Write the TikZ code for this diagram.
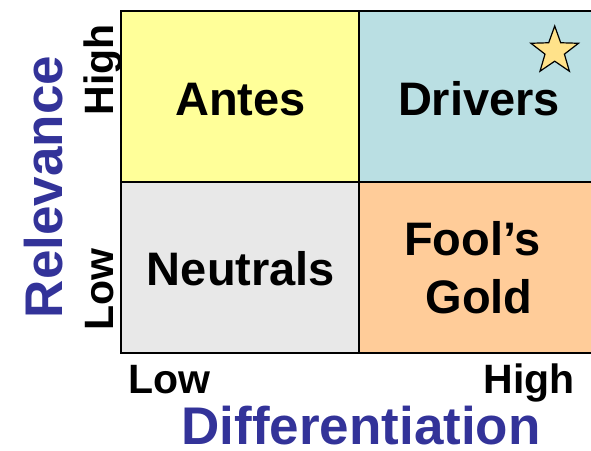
\documentclass[tikz,border=0pt]{standalone}
\usepackage{fontspec}
\setmainfont{Liberation Sans}
\definecolor{cyel}{HTML}{FFFF99}
\definecolor{cblue}{HTML}{BADFE3}
\definecolor{cgray}{HTML}{E8E8E8}
\definecolor{corange}{HTML}{FFCC99}
\definecolor{cstar}{HTML}{FFE28A}
\definecolor{caxis}{HTML}{333399}
\begin{document}
\begin{tikzpicture}[x=1pt,y=-1pt,
  cell/.style={draw=black, line width=1.4pt, inner sep=0pt, minimum width=238pt, minimum height=171pt},
  qlabel/.style={anchor=base, inner sep=0pt, font=\fontsize{47}{56}\selectfont\bfseries},
  ticklabel/.style={anchor=base, inner sep=0pt, font=\fontsize{41}{48}\selectfont\bfseries},
  axislabel/.style={anchor=base, inner sep=0pt, text=caxis, font=\fontsize{53}{62}\selectfont\bfseries},
  starmark/.style={draw=black, line width=1.2pt, fill=cstar, line join=miter}]
\useasboundingbox (0,0) rectangle (591,450);
\node[cell, fill=cyel] (antes) at (240,96.5) {};
\node[cell, fill=cblue] (drivers) at (478.5,96.5) {};
\node[cell, fill=cgray] (neutrals) at (240,267.5) {};
\node[cell, fill=corange] (fools) at (478.5,267.5) {};
\coordinate (star) at (554.7,51);
\draw[starmark, shift={(star)}]
  (-90:25) -- (-54:10.2) -- (-18:25) -- (18:10.2) -- (54:25) -- (90:10.2)
  -- (126:25) -- (162:10.2) -- (198:25) -- (234:10.2) -- cycle;
\node[qlabel] (tantes) at (240.5,115) {Antes};
\node[qlabel] (tdrivers) at (479,115) {Drivers};
\node[qlabel] (tneutrals) at (241,285) {Neutrals};
\node[qlabel] (tfools) at (472.5,255) {Fool’s};
\node[qlabel] (tgold) at (479,313) {Gold};
\node[ticklabel, rotate=90] (yhigh) at (113,70) {High};
\node[ticklabel, rotate=90] (ylow) at (113,290) {Low};
\node[ticklabel] (xlow) at (169,393) {Low};
\node[ticklabel] (xhigh) at (529,393) {High};
\node[axislabel, rotate=90] (rel) at (62,187) {Relevance};
\node[axislabel, text depth=0pt] (diff) at (361,444) {Differentiation};
\end{tikzpicture}
\end{document}
